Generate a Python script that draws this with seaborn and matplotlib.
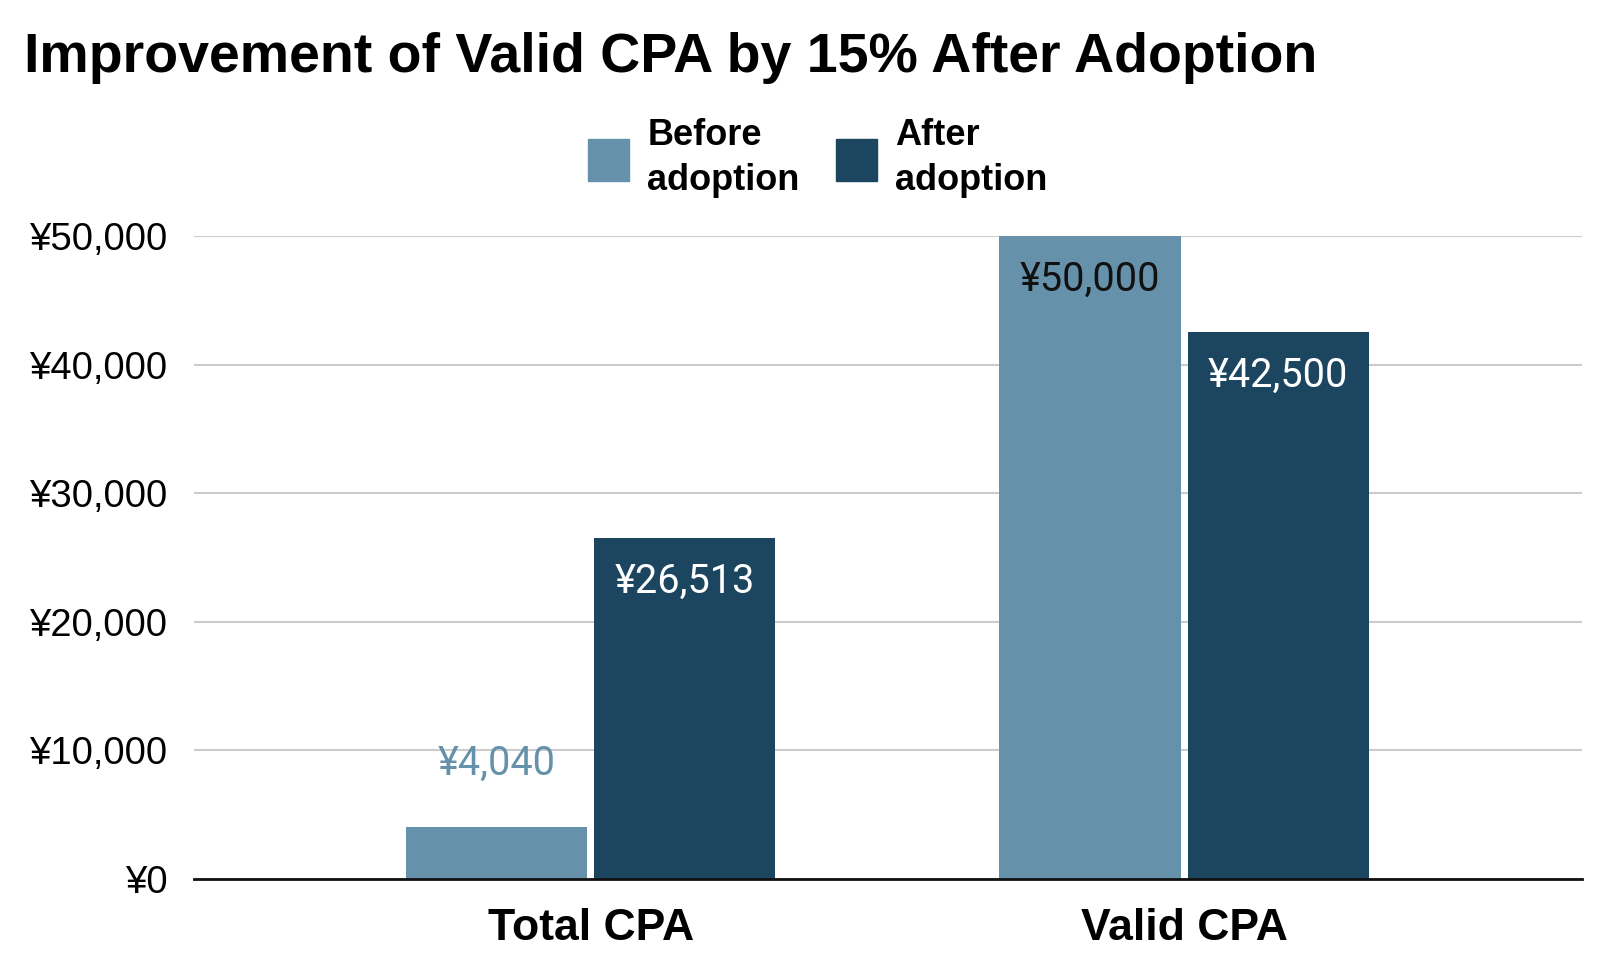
import matplotlib
matplotlib.use("Agg")
import matplotlib.pyplot as plt
import pandas as pd
import seaborn as sns

categories = ["Total CPA", "Valid CPA"]
phases = ["Before adoption", "After adoption"]
legend_labels = ["Before\nadoption", "After\nadoption"]
before_values = [4040, 50000]
after_values = [26513, 42500]
yticks = [0, 10000, 20000, 30000, 40000, 50000]
title = "Improvement of Valid CPA by 15% After Adoption"

colors = {"Before adoption": "#6591aa", "After adoption": "#1c4560"}
helv = ["Liberation Sans", "DejaVu Sans"]

frame = pd.DataFrame({
    "category": categories * 2,
    "phase": [phases[0]] * len(categories) + [phases[1]] * len(categories),
    "value": before_values + after_values,
})

sns.set_theme(style="white")
plt.rcParams["font.family"] = ["Roboto", "DejaVu Sans"]
plt.rcParams["text.color"] = "black"
plt.rcParams["xtick.color"] = "black"
plt.rcParams["ytick.color"] = "black"

fig = plt.figure(figsize=(16, 9.77), dpi=100)
ax = fig.add_axes([0.121, 0.1003, 0.868, 0.6581])

sns.barplot(data=frame, x="category", y="value", hue="phase", hue_order=phases,
            palette=colors, width=0.634, gap=0.037, saturation=1, ax=ax,
            legend=False, edgecolor="none")

ax.set_xlim(-0.669, 1.671)
ax.set_ylim(0, 50000)
ax.set_yticks(yticks)
ax.set_yticklabels([f"¥{v:,}" for v in yticks], fontsize=27.5, family=helv)
ax.tick_params(axis="y", length=0, pad=19)
ax.tick_params(axis="x", length=0, pad=21)
ax.set_xticks(range(len(categories)))
ax.set_xticklabels(categories, fontsize=32, fontweight="bold", family=helv)
ax.set_xlabel("")
ax.set_ylabel("")
ax.yaxis.grid(True, color="#cccccc", linewidth=1.5)
ax.set_axisbelow(True)
for side in ["top", "right", "left"]:
    ax.spines[side].set_visible(False)
ax.spines["bottom"].set_color("#111111")
ax.spines["bottom"].set_linewidth(2)
ax.spines["bottom"].set_zorder(5)

# value labels: inside the bar top, or above it when the bar is short
series_values = [before_values, after_values]
for i, container in enumerate(ax.containers):
    for patch, value in zip(container.patches, series_values[i]):
        cx = patch.get_x() + patch.get_width() / 2
        top = patch.get_height()
        text = f"¥{value:,}"
        if value < 8000:
            ax.annotate(text, (cx, top), xytext=(0, 46), textcoords="offset points",
                        ha="center", va="center", fontsize=28.5, color=colors[phases[i]])
        else:
            color = "#111111" if i == 0 else "white"
            ax.annotate(text, (cx, top), xytext=(0, -31), textcoords="offset points",
                        ha="center", va="center", fontsize=28.5, color=color)

fig.text(24 / 1600, 1 - 72 / 977, title, fontsize=40, fontweight="bold",
         ha="left", va="baseline", family=helv)

handles = [plt.Rectangle((0, 0), 1, 1, color=colors[p]) for p in phases]
leg = fig.legend(handles, legend_labels, loc="upper center",
                 bbox_to_anchor=(0.511, 0.912), ncol=2, frameon=False,
                 prop={"family": helv, "weight": "bold", "size": 26},
                 handlelength=1.15, handleheight=1.4, handletextpad=0.5,
                 columnspacing=1.0)
for t in leg.get_texts():
    t.set_linespacing(1.35)

fig.savefig("out.png", dpi=100, facecolor="white")
